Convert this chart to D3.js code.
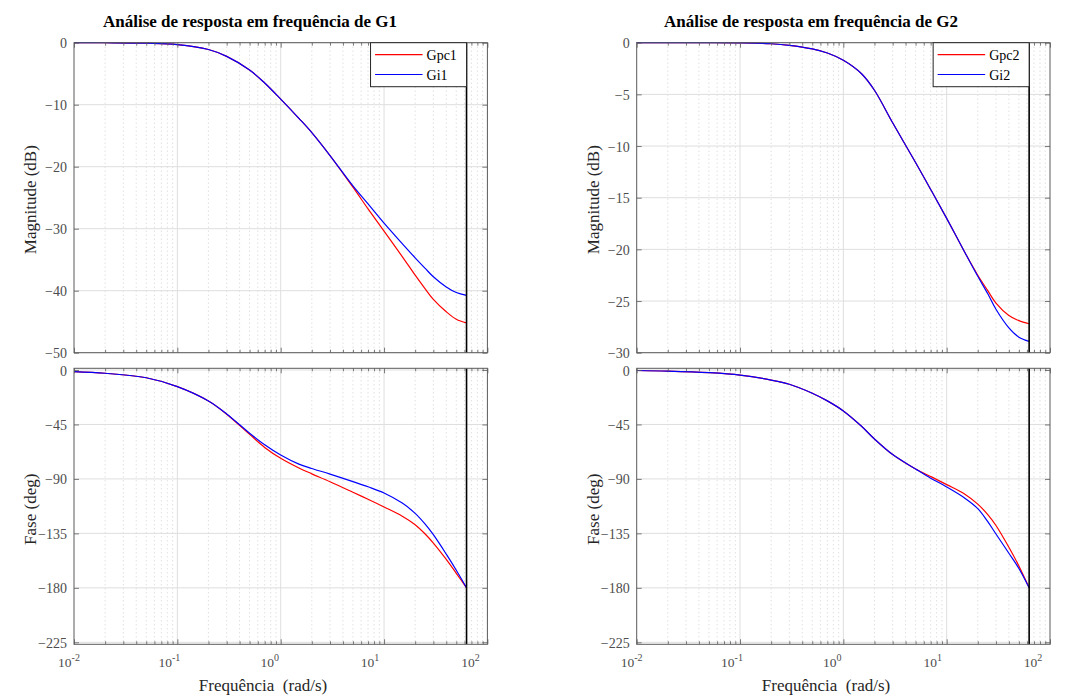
<!DOCTYPE html>
<html>
<head>
<meta charset="utf-8">
<script src="https://cdn.jsdelivr.net/npm/d3@7"></script>
<style>
    body { margin: 0; background: #fff; }
    svg text { font-family: "Liberation Serif", "Times New Roman", serif; }
</style>
</head>
<body>
<div id="chart"></div>
<script>
// frequencies (rad/s) the curves were read at; last one is the Nyquist frequency
const freqs = [0.01, 0.02, 0.05, 0.1, 0.2, 0.3, 0.5, 0.7, 1, 1.5, 2, 3, 5, 7, 10, 15, 20, 25, 30, 40, 50, 62.83];
const nyquist = 62.83;

// G1
const magGpc1 = [0, -0.01, -0.08, -0.3, -1.1, -2.2, -4.4, -6.5, -9.1, -12.2, -14.5, -18.2, -23.3, -26.8, -30.4, -34.5, -37.5, -39.7, -41.4, -43.4, -44.6, -45.2];
const magGi1 = [0, -0.01, -0.08, -0.3, -1.1, -2.2, -4.4, -6.5, -9.1, -12.2, -14.5, -18.2, -23.1, -26.0, -29.1, -32.4, -34.7, -36.4, -37.75, -39.4, -40.3, -40.75];
const phaseGpc1 = [-1.3, -2.7, -6.4, -13.7, -25.6, -36.5, -53.2, -64.0, -73.0, -81.0, -85.8, -92.3, -101.0, -106.8, -113.2, -120.8, -127.8, -135.5, -143.0, -156.5, -168.0, -180];
const phaseGi1 = [-1.3, -2.7, -6.4, -13.7, -25.6, -36.3, -52.2, -61.8, -70.3, -77.8, -81.4, -86.0, -92.2, -96.5, -101.6, -110.0, -118.5, -127.4, -136.1, -152.2, -165.5, -180];

// G2
const magGpc2 = [0, 0, 0, -0.02, -0.1, -0.25, -0.6, -1.0, -1.7, -3.0, -4.6, -7.75, -11.6, -14.2, -17.0, -20.3, -22.5, -24.0, -25.2, -26.4, -26.9, -27.2];
const magGi2 = [0, 0, 0, -0.02, -0.1, -0.25, -0.6, -1.0, -1.7, -3.0, -4.6, -7.75, -11.6, -14.2, -17.0, -20.3, -22.6, -24.3, -25.8, -27.6, -28.5, -28.9];
const phaseGpc2 = [-0.4, -0.9, -2.2, -4.2, -8.3, -11.8, -19.2, -25.5, -33.8, -46.5, -57.0, -69.9, -81.8, -88.0, -94.7, -102.6, -110.8, -119.5, -128.5, -146.5, -162.0, -180];
const phaseGi2 = [-0.4, -0.9, -2.2, -4.2, -8.3, -11.8, -19.2, -25.5, -33.8, -46.5, -57.0, -69.9, -81.8, -89.4, -96.6, -105.9, -114.5, -125.3, -135.5, -151.4, -164.0, -180];

const magTicks1 = [0, -10, -20, -30, -40, -50];
const magTicks2 = [0, -5, -10, -15, -20, -25, -30];
const phaseTicks = [0, -45, -90, -135, -180, -225];
const decadeTicks = [0.01, 0.1, 1, 10, 100];
const decadeExp = ['-2', '-1', '0', '1', '2'];

const titles = ['Análise de resposta em frequência de G1', 'Análise de resposta em frequência de G2'];
const legend1 = ['Gpc1', 'Gi1'];
const legend2 = ['Gpc2', 'Gi2'];
const colors = ['#ff0000', '#0000ff'];

const minorTicks = [];
[0.01, 0.1, 1, 10].forEach(d => {
    for (let k = 2; k <= 9; k++) minorTicks.push(+(k * d).toPrecision(3));
});

const panels = [
    { left: 74, right: 487.4, title: titles[0], titleX: 250, labelX: 263, legend: legend1,
      mag: [magGpc1, magGi1], phase: [phaseGpc1, phaseGi1], magDomain: [-50, 0], magTicks: magTicks1 },
    { left: 636.7, right: 1050, title: titles[1], titleX: 811, labelX: 826, legend: legend2,
      mag: [magGpc2, magGi2], phase: [phaseGpc2, phaseGi2], magDomain: [-30, 0], magTicks: magTicks2 }
];

const magTop = 42.7, magBottom = 352.7;
const phTop = 368.3, phBottom = 644.3;
const axisGrey = '#5a5a5a';

const svg = d3.select('#chart')
    .append('svg')
    .attr('width', 1066)
    .attr('height', 697)
    .style('background', '#fff');

function drawPlot(p, x, y, yTicks, series, top, bottom, showXLabels) {
    const g = svg.append('g');

    // minor grid (dotted, x only)
    g.selectAll('line.minor')
        .data(minorTicks)
        .enter()
        .append('line')
        .attr('x1', d => x(d)).attr('x2', d => x(d))
        .attr('y1', top).attr('y2', bottom)
        .style('stroke', '#c8c8c8')
        .style('stroke-width', 0.8)
        .style('stroke-dasharray', '1 3');

    // major grid
    g.selectAll('line.vgrid')
        .data(decadeTicks.slice(1, -1))
        .enter()
        .append('line')
        .attr('x1', d => x(d)).attr('x2', d => x(d))
        .attr('y1', top).attr('y2', bottom)
        .style('stroke', '#dedede')
        .style('stroke-width', 1);

    g.selectAll('line.hgrid')
        .data(yTicks)
        .enter()
        .append('line')
        .attr('x1', p.left).attr('x2', p.right)
        .attr('y1', d => y(d)).attr('y2', d => y(d))
        .style('stroke', '#dedede')
        .style('stroke-width', 1);

    const line = d3.line()
        .x(d => x(d[0]))
        .y(d => y(d[1]))
        .curve(d3.curveCatmullRom.alpha(0.5));

    series.forEach((vals, i) => {
        g.append('path')
            .datum(freqs.map((f, j) => [f, vals[j]]))
            .attr('d', line)
            .style('fill', 'none')
            .style('stroke', colors[i])
            .style('stroke-width', 1.2);
    });

    // Nyquist frequency line
    g.append('line')
        .attr('x1', x(nyquist)).attr('x2', x(nyquist))
        .attr('y1', top).attr('y2', bottom)
        .style('stroke', '#000')
        .style('stroke-width', 1.6);

    // ticks (inside, all four sides)
    const addAxis = (axis, tx, ty) => {
        const a = g.append('g').attr('transform', `translate(${tx},${ty})`).call(axis);
        a.select('.domain').remove();
        a.selectAll('line').style('stroke', axisGrey).style('stroke-width', 0.8);
        return a;
    };

    addAxis(d3.axisBottom(x).tickValues(decadeTicks).tickSize(-5).tickFormat(''), 0, bottom);
    addAxis(d3.axisBottom(x).tickValues(minorTicks).tickSize(-3).tickFormat(''), 0, bottom);
    addAxis(d3.axisTop(x).tickValues(decadeTicks).tickSize(-5).tickFormat(''), 0, top);
    addAxis(d3.axisTop(x).tickValues(minorTicks).tickSize(-3).tickFormat(''), 0, top);
    addAxis(d3.axisRight(y).tickValues(yTicks).tickSize(-5).tickFormat(''), p.right, 0);

    const yAxis = addAxis(d3.axisLeft(y).tickValues(yTicks).tickSize(-5).tickPadding(7), p.left, 0);
    yAxis.selectAll('text')
        .style('font-size', '14px')
        .style('fill', '#4d4d4d')
        .style('font-family', '"Liberation Serif", "Times New Roman", serif')
        .attr('dy', '0.36em');

    // box
    g.append('rect')
        .attr('x', p.left).attr('y', top)
        .attr('width', p.right - p.left).attr('height', bottom - top)
        .style('fill', 'none')
        .style('stroke', axisGrey)
        .style('stroke-width', 1);

    if (showXLabels) {
        decadeTicks.forEach((t, i) => {
            const txt = g.append('text')
                .attr('x', x(t) - 5 - 3 * i)
                .attr('y', 667)
                .attr('text-anchor', 'middle')
                .style('font-size', '13.5px')
                .style('fill', '#4d4d4d');
            txt.append('tspan').text('10');
            txt.append('tspan').attr('dy', -6).style('font-size', '10px').text(decadeExp[i]);
        });
    }
    return g;
}

panels.forEach(p => {
    const x = d3.scaleLog().domain([0.01, 100]).range([p.left, p.right]);
    const yMag = d3.scaleLinear().domain(p.magDomain).range([magBottom, magTop]);
    const yPh = d3.scaleLinear().domain([-226.65, 1.4]).range([phBottom, phTop]);

    drawPlot(p, x, yMag, p.magTicks, p.mag, magTop, magBottom, false);
    drawPlot(p, x, yPh, phaseTicks, p.phase, phTop, phBottom, true);

    // title
    svg.append('text')
        .attr('x', p.titleX)
        .attr('y', 27)
        .attr('text-anchor', 'middle')
        .style('font-size', '17px')
        .style('font-weight', 'bold')
        .style('fill', '#000')
        .text(p.title);

    // axis labels
    svg.append('text')
        .attr('transform', `translate(${p.left - 38},${(magTop + magBottom) / 2 + 2}) rotate(-90)`)
        .attr('text-anchor', 'middle')
        .style('font-size', '17px')
        .style('fill', '#262626')
        .text('Magnitude (dB)');

    svg.append('text')
        .attr('transform', `translate(${p.left - 38},${(phTop + phBottom) / 2 + 3}) rotate(-90)`)
        .attr('text-anchor', 'middle')
        .style('font-size', '17px')
        .style('fill', '#262626')
        .text('Fase (deg)');

    svg.append('text')
        .attr('x', p.labelX)
        .attr('y', 691)
        .attr('text-anchor', 'middle')
        .style('font-size', '17px')
        .style('fill', '#262626')
        .style('white-space', 'pre')
        .attr('xml:space', 'preserve')
        .text('Frequência  (rad/s)');

    // legend
    const lx0 = x(nyquist) - 96;
    const lw = 96;
    const lg = svg.append('g');
    lg.append('rect')
        .attr('x', lx0).attr('y', magTop)
        .attr('width', lw).attr('height', 44)
        .style('fill', '#fff')
        .style('stroke', '#262626')
        .style('stroke-width', 1);
    p.legend.forEach((name, i) => {
        const ly = magTop + 12 + i * 19.8;
        lg.append('line')
            .attr('x1', lx0 + 4.5).attr('x2', lx0 + 52)
            .attr('y1', ly).attr('y2', ly)
            .style('stroke', colors[i])
            .style('stroke-width', 1.2);
        lg.append('text')
            .attr('x', lx0 + 56)
            .attr('y', ly + 5)
            .style('font-size', '14px')
            .style('fill', '#000')
            .text(name);
    });
});
</script>
</body>
</html>
